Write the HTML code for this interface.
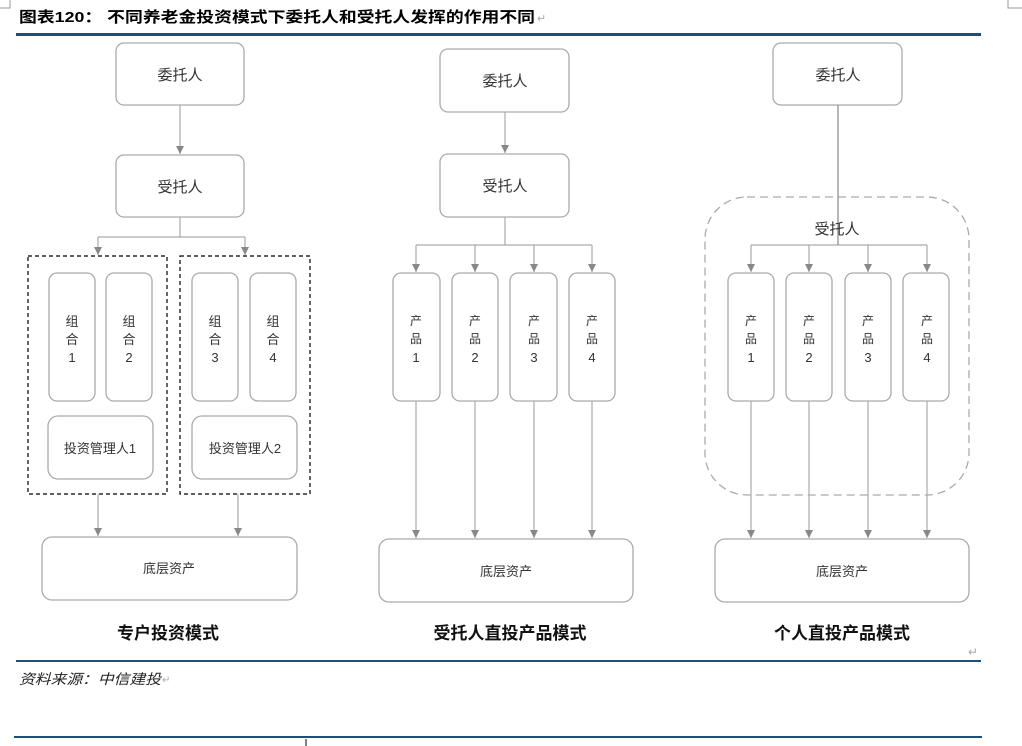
<!DOCTYPE html>
<html><head><meta charset="utf-8"><style>
html,body{margin:0;padding:0;background:#fff;width:1022px;height:746px;overflow:hidden}
svg{display:block}
text{font-family:"Liberation Sans","Noto Sans CJK SC",sans-serif}
</style></head><body>
<svg width="1022" height="746" viewBox="0 0 1022 746" xmlns="http://www.w3.org/2000/svg">
<defs>
<marker id="a" markerWidth="10" markerHeight="10" refX="8" refY="5" orient="auto" markerUnits="userSpaceOnUse">
<path d="M0,1 L8,5 L0,9 Z" fill="#888"/></marker>
</defs>
<path d="M0,8 H10 V0" fill="none" stroke="#999" stroke-width="1"/>
<path d="M1022,8 H1008 V0" fill="none" stroke="#999" stroke-width="1"/>
<text x="19" y="22" font-size="15" font-weight="bold" fill="#000" textLength="516" lengthAdjust="spacingAndGlyphs" style="font-family:'Liberation Sans','Noto Sans CJK SC',sans-serif">图表120： 不同养老金投资模式下委托人和受托人发挥的作用不同</text>
<text x="537" y="22" font-size="11" fill="#aaa">↵</text>
<rect x="16" y="33" width="965" height="3" fill="#1f4e79"/>

<g fill="#fff" stroke="#aaa" stroke-width="1.3">
<rect x="116" y="43" width="128" height="62" rx="8"/>
<rect x="116" y="155" width="128" height="62" rx="8"/>
<rect x="49" y="273" width="46" height="128" rx="8"/>
<rect x="106" y="273" width="46" height="128" rx="8"/>
<rect x="192" y="273" width="46" height="128" rx="8"/>
<rect x="250" y="273" width="46" height="128" rx="8"/>
<rect x="48" y="416" width="105" height="63" rx="10"/>
<rect x="192" y="416" width="105" height="63" rx="10"/>
<rect x="42" y="537" width="255" height="63" rx="10"/>
<rect x="440" y="49" width="129" height="63" rx="8"/>
<rect x="440" y="154" width="129" height="63" rx="8"/>
<rect x="393" y="273" width="47" height="128" rx="8"/>
<rect x="452" y="273" width="46" height="128" rx="8"/>
<rect x="510" y="273" width="47" height="128" rx="8"/>
<rect x="569" y="273" width="46" height="128" rx="8"/>
<rect x="379" y="539" width="254" height="63" rx="10"/>
<rect x="773" y="43" width="129" height="62" rx="8"/>
<rect x="728" y="273" width="46" height="128" rx="8"/>
<rect x="786" y="273" width="46" height="128" rx="8"/>
<rect x="845" y="273" width="46" height="128" rx="8"/>
<rect x="903" y="273" width="46" height="128" rx="8"/>
<rect x="715" y="539" width="254" height="63" rx="10"/>
</g>
<g fill="none" stroke="#000" stroke-width="1.2" stroke-dasharray="4,3">
<rect x="28" y="256" width="139" height="238"/>
<rect x="180" y="256" width="130" height="238"/>
</g>
<rect x="705" y="197" width="264" height="298" rx="42" fill="none" stroke="#aaa" stroke-width="1.3" stroke-dasharray="8,5"/>

<g stroke="#aaa" stroke-width="1.2" fill="none">
<line x1="180" y1="105" x2="180" y2="154" marker-end="url(#a)"/>
<path d="M180,217 V237 M98,237 H245"/>
<line x1="98" y1="237" x2="98" y2="255" marker-end="url(#a)"/>
<line x1="245" y1="237" x2="245" y2="255" marker-end="url(#a)"/>
<line x1="98" y1="494" x2="98" y2="536" marker-end="url(#a)"/>
<line x1="238" y1="494" x2="238" y2="536" marker-end="url(#a)"/>
<line x1="505" y1="112" x2="505" y2="153" marker-end="url(#a)"/>
<path d="M505,217 V245 M416,245 H592"/>
<line x1="416" y1="245" x2="416" y2="272" marker-end="url(#a)"/>
<line x1="475" y1="245" x2="475" y2="272" marker-end="url(#a)"/>
<line x1="534" y1="245" x2="534" y2="272" marker-end="url(#a)"/>
<line x1="592" y1="245" x2="592" y2="272" marker-end="url(#a)"/>
<line x1="416" y1="401" x2="416" y2="538" marker-end="url(#a)"/>
<line x1="475" y1="401" x2="475" y2="538" marker-end="url(#a)"/>
<line x1="534" y1="401" x2="534" y2="538" marker-end="url(#a)"/>
<line x1="592" y1="401" x2="592" y2="538" marker-end="url(#a)"/>
<path d="M751,245 H927"/>
<line x1="751" y1="245" x2="751" y2="272" marker-end="url(#a)"/>
<line x1="809" y1="245" x2="809" y2="272" marker-end="url(#a)"/>
<line x1="868" y1="245" x2="868" y2="272" marker-end="url(#a)"/>
<line x1="927" y1="245" x2="927" y2="272" marker-end="url(#a)"/>
<line x1="751" y1="401" x2="751" y2="538" marker-end="url(#a)"/>
<line x1="809" y1="401" x2="809" y2="538" marker-end="url(#a)"/>
<line x1="868" y1="401" x2="868" y2="538" marker-end="url(#a)"/>
<line x1="927" y1="401" x2="927" y2="538" marker-end="url(#a)"/>
</g>
<line x1="838" y1="105" x2="838" y2="245" stroke="#888" stroke-width="1.2"/>

<g fill="#333" font-size="15" text-anchor="middle">
<text x="180" y="80">委托人</text>
<text x="180" y="192">受托人</text>
<text x="505" y="86">委托人</text>
<text x="505" y="191">受托人</text>
<text x="838" y="80">委托人</text>
<text x="837" y="234">受托人</text>
</g>
<g fill="#333" font-size="13" text-anchor="middle">
<text x="72" y="326">组</text><text x="72" y="344">合</text><text x="72" y="362">1</text>
<text x="129" y="326">组</text><text x="129" y="344">合</text><text x="129" y="362">2</text>
<text x="215" y="326">组</text><text x="215" y="344">合</text><text x="215" y="362">3</text>
<text x="273" y="326">组</text><text x="273" y="344">合</text><text x="273" y="362">4</text>
<text x="100" y="453">投资管理人1</text>
<text x="245" y="453">投资管理人2</text>
<text x="169" y="573">底层资产</text>
<text x="506" y="576">底层资产</text>
<text x="842" y="576">底层资产</text>
</g>
<g fill="#333" font-size="12" text-anchor="middle">
<text x="416" y="325">产</text><text x="416" y="343">品</text><text x="416" y="362" font-size="13">1</text>
<text x="475" y="325">产</text><text x="475" y="343">品</text><text x="475" y="362" font-size="13">2</text>
<text x="534" y="325">产</text><text x="534" y="343">品</text><text x="534" y="362" font-size="13">3</text>
<text x="592" y="325">产</text><text x="592" y="343">品</text><text x="592" y="362" font-size="13">4</text>
<text x="751" y="325">产</text><text x="751" y="343">品</text><text x="751" y="362" font-size="13">1</text>
<text x="809" y="325">产</text><text x="809" y="343">品</text><text x="809" y="362" font-size="13">2</text>
<text x="868" y="325">产</text><text x="868" y="343">品</text><text x="868" y="362" font-size="13">3</text>
<text x="927" y="325">产</text><text x="927" y="343">品</text><text x="927" y="362" font-size="13">4</text>
</g>
<g fill="#111" font-size="17" font-weight="bold" text-anchor="middle">
<text x="168" y="639">专户投资模式</text>
<text x="510" y="639">受托人直投产品模式</text>
<text x="842" y="639">个人直投产品模式</text>
</g>
<text x="968" y="656" font-size="12" fill="#aaa">↵</text>
<rect x="16" y="660" width="965" height="2" fill="#1f4e79"/>
<text x="19" y="684" font-size="14" font-style="italic" fill="#222" textLength="142" lengthAdjust="spacingAndGlyphs">资料来源：中信建投</text>
<text x="162" y="683" font-size="10" fill="#aaa">↵</text>
<rect x="14" y="736" width="968" height="2" fill="#1f4e79"/>
<line x1="306" y1="739" x2="306" y2="746" stroke="#000" stroke-width="1"/>
</svg>
</body></html>
